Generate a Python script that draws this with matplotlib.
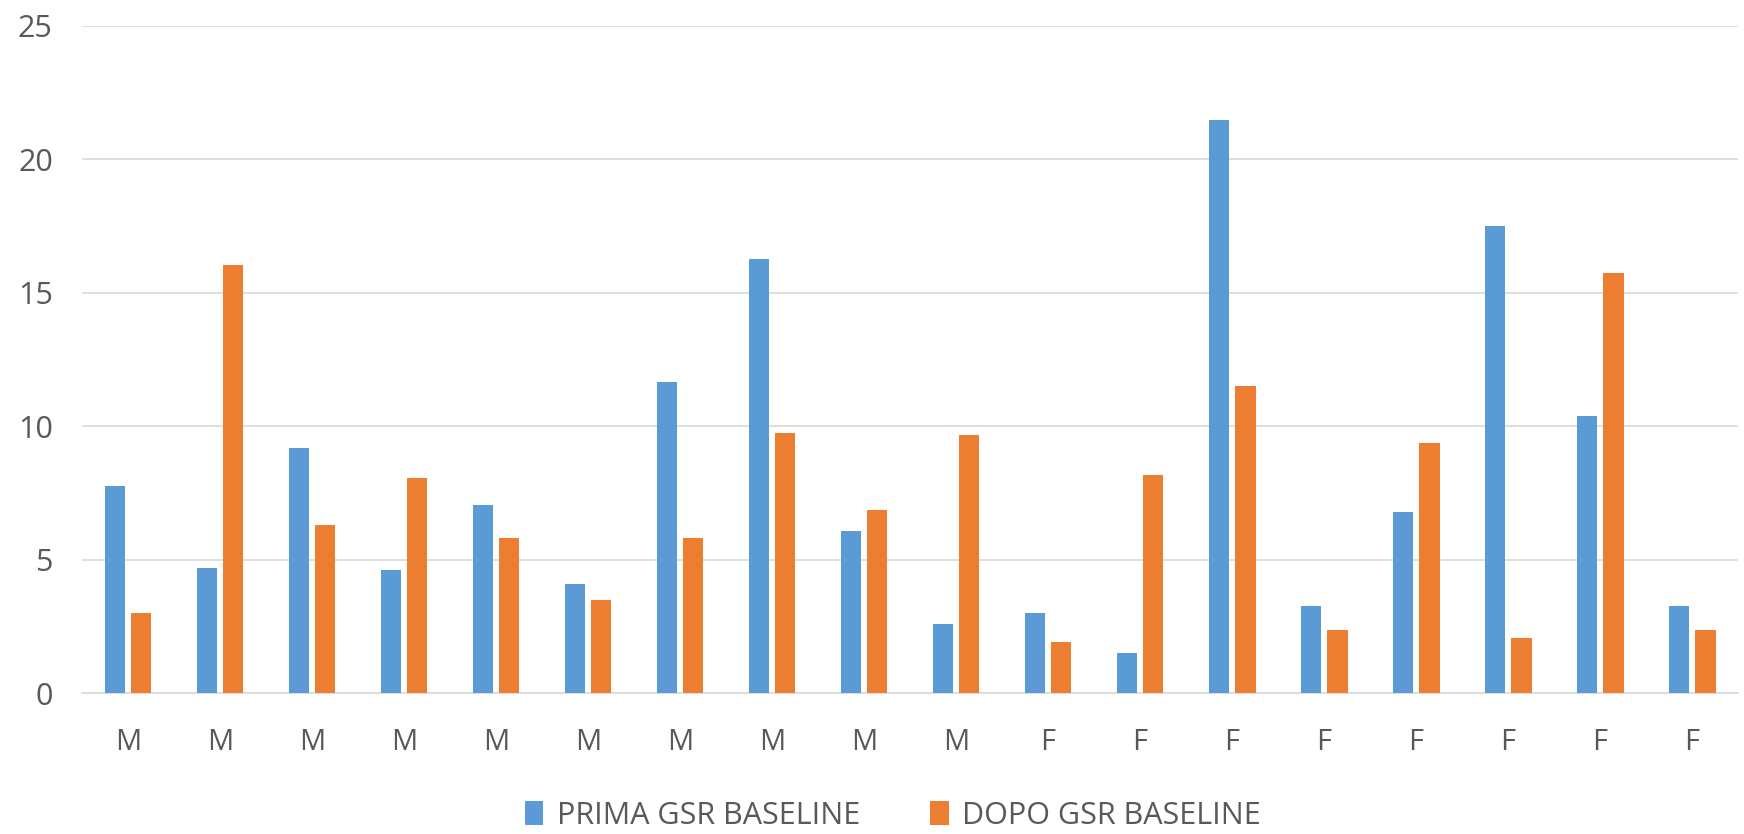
import matplotlib
matplotlib.use("Agg")
import matplotlib.pyplot as plt
import numpy as np

categories = ["M"] * 10 + ["F"] * 8
prima = [7.75, 4.7, 9.2, 4.6, 7.05, 4.08, 11.67, 16.25, 6.08, 2.58,
         3.0, 1.5, 21.46, 3.25, 6.8, 17.5, 10.38, 3.25]
dopo = [3.0, 16.04, 6.3, 8.04, 5.8, 3.5, 5.8, 9.75, 6.87, 9.67,
        1.92, 8.17, 11.5, 2.38, 9.38, 2.08, 15.75, 2.38]
series_names = ["PRIMA GSR BASELINE", "DOPO GSR BASELINE"]
yticks = [0, 5, 10, 15, 20, 25]

BLUE = "#5B9BD5"
ORANGE = "#ED7D31"
GRAY = "#595959"

plt.rcParams['font.family'] = ['Open Sans', 'DejaVu Sans']

fig = plt.figure(figsize=(17.44, 8.34), dpi=100)
ax = fig.add_axes([0.047, 0.169, 0.9496, 0.8])

x = np.arange(len(categories))
w = 0.22
ax.bar(x - 0.145, prima, width=w, color=BLUE, label=series_names[0], zorder=3)
ax.bar(x + 0.145, dopo, width=w, color=ORANGE, label=series_names[1], zorder=3)

ax.set_xlim(-0.5, len(categories) - 0.5)
ax.set_ylim(0, 25)
ax.set_yticks(yticks)
ax.set_yticklabels([str(t) for t in yticks])
ax.set_xticks(x)
ax.set_xticklabels(categories)
ax.yaxis.grid(True, color="#D9D9D9", linewidth=1.2, zorder=0)
ax.set_axisbelow(True)
for s in ax.spines.values():
    s.set_visible(False)
ax.spines['bottom'].set_visible(True)
ax.spines['bottom'].set_color("#D9D9D9")
ax.spines['bottom'].set_linewidth(1.2)
ax.tick_params(axis='both', length=0, colors=GRAY, labelsize=21)
ax.tick_params(axis='y', labelsize=22, pad=21)
ax.tick_params(axis='x', pad=25)

leg = fig.legend(loc='center', bbox_to_anchor=(0.512, 0.022), ncol=2,
                 frameon=False, fontsize=22, handlelength=0.6, handleheight=0.85,
                 columnspacing=2.3, handletextpad=0.45, borderpad=0, borderaxespad=0)
for t in leg.get_texts():
    t.set_color(GRAY)

fig.savefig("out.png", dpi=100)
